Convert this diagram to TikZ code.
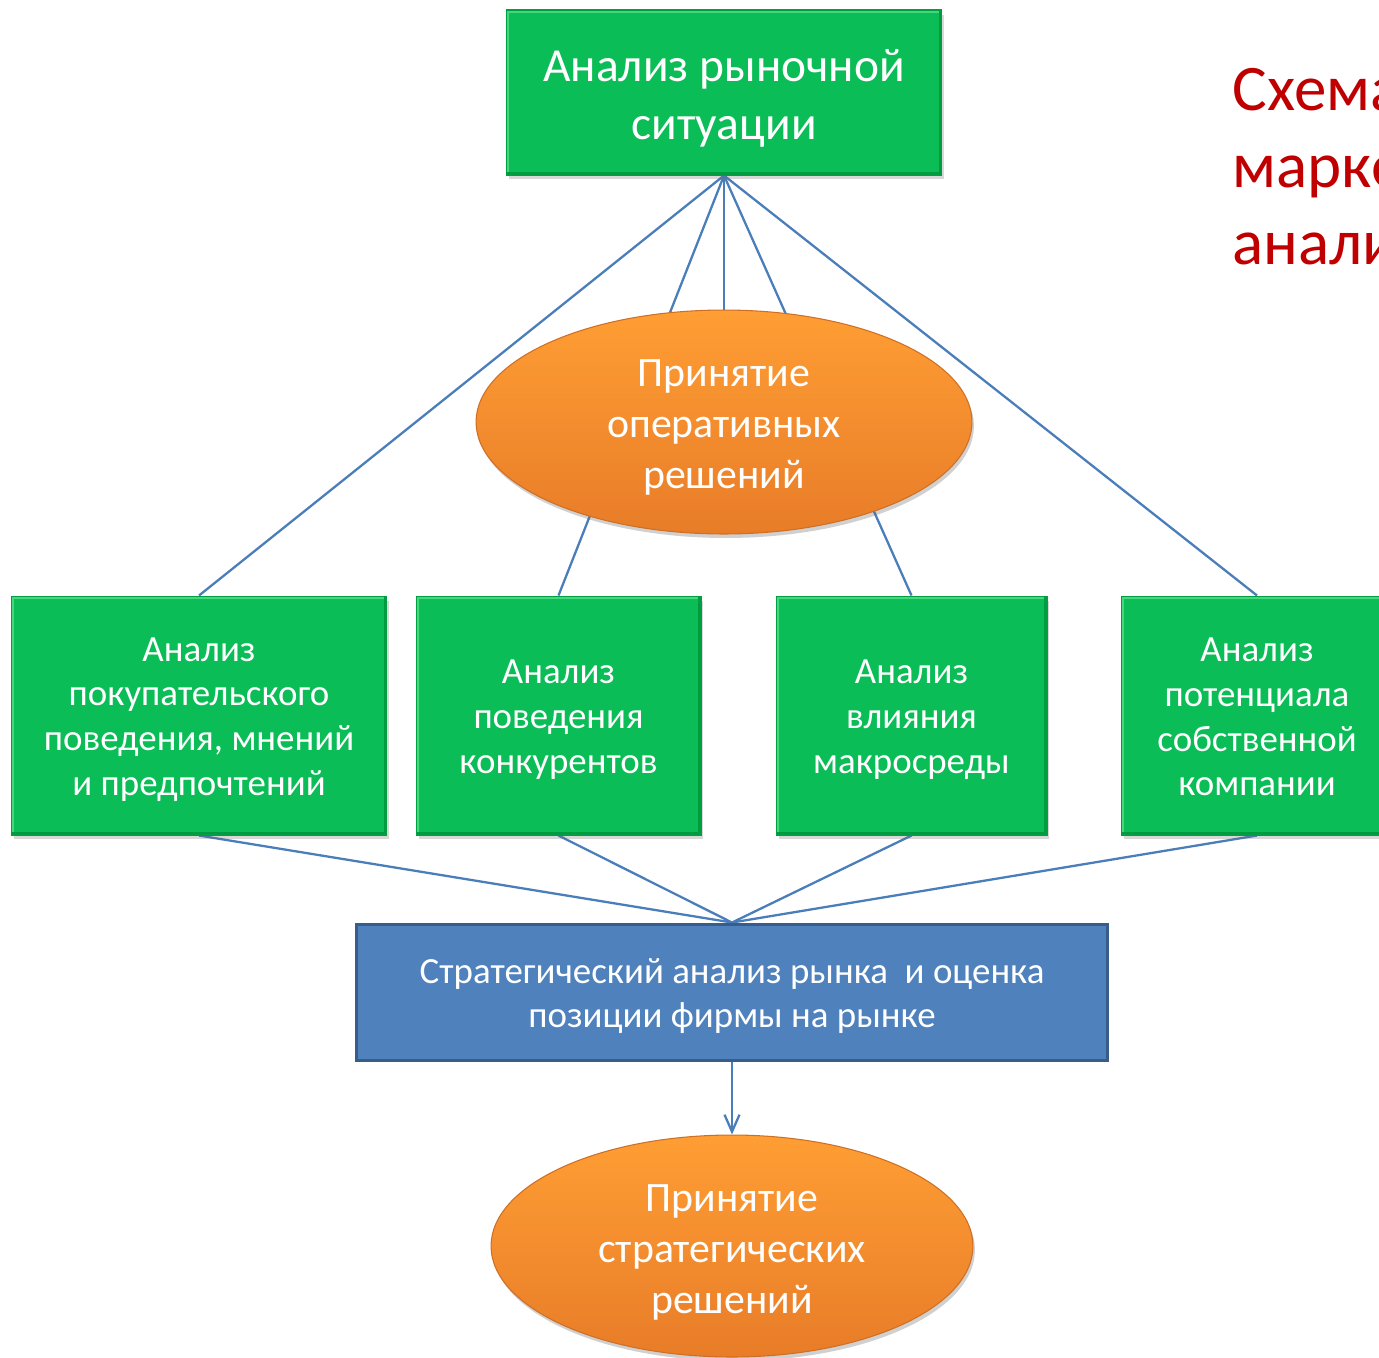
\documentclass[tikz,border=0pt]{standalone}
\usepackage{fontspec}
\setmainfont{Carlito}
\usetikzlibrary{shapes.geometric,arrows.meta,shadows}
\definecolor{boxgreen}{RGB}{10,189,86}
\definecolor{boxgreenedge}{RGB}{0,160,66}
\definecolor{bevellight}{RGB}{70,215,125}
\definecolor{beveldark}{RGB}{0,155,64}
\definecolor{orangetop}{RGB}{255,158,52}
\definecolor{orangebot}{RGB}{232,124,40}
\definecolor{orangeedge}{RGB}{205,112,38}
\definecolor{bluefill}{RGB}{79,129,189}
\definecolor{blueedge}{RGB}{56,93,138}
\definecolor{linkblue}{RGB}{74,126,187}
\definecolor{titlered}{RGB}{192,0,0}
\pgfdeclarelayer{background}
\pgfsetlayers{background,main}
\tikzset{
  greenbox/.style={rectangle, fill=boxgreen, draw=boxgreenedge, line width=0.6pt,
    inner sep=0pt,
    path picture={
      \draw[bevellight, line width=0.1cm]
        (path picture bounding box.south west) -- (path picture bounding box.north west)
        -- (path picture bounding box.north east);
      \draw[beveldark, line width=0.1cm]
        (path picture bounding box.north east) -- (path picture bounding box.south east)
        -- (path picture bounding box.south west);
    },
    drop shadow={shadow xshift=0.05cm, shadow yshift=-0.09cm, opacity=0.25, fill=black!60}},
  orangeell/.style={ellipse, top color=orangetop, bottom color=orangebot, draw=orangeedge,
    line width=0.6pt, inner sep=0pt,
    drop shadow={shadow xshift=0.04cm, shadow yshift=-0.08cm, opacity=0.3, fill=black!60}},
  bluebox/.style={rectangle, fill=bluefill, draw=blueedge, line width=1.7pt, inner sep=0pt},
  label text/.style={text=white, align=center, inner sep=0pt},
  link/.style={draw=linkblue, line width=1.3pt},
  titletext/.style={text=titlered, anchor=base west, inner sep=0pt,
    font=\fontsize{37pt}{44pt}\selectfont},
}
\begin{document}
\begin{tikzpicture}[x=0.02cm,y=-0.02cm]
\useasboundingbox (0,0) rectangle (1379,1357);
\clip (0,0) rectangle (1379,1357);
\begin{pgfonlayer}{background}
\fill[white] (0,0) rectangle (1379,1357);
\end{pgfonlayer}

\node[greenbox, minimum width=8.72cm, minimum height=3.3cm] (top) at (724,92.5) {};
\node[label text, font=\fontsize{27pt}{33pt}\selectfont] (toptext) at (724,98.5) {Анализ рыночной\\ситуации};

\node[titletext] (t1) at (1232,110) {Схема};
\node[titletext] (t2) at (1232,187) {марке};
\node[titletext] (t3) at (1232,264) {анали};

\node[greenbox, minimum width=7.52cm, minimum height=4.78cm] (b1) at (199,715.5) {};
\node[greenbox, minimum width=5.7cm, minimum height=4.78cm] (b2) at (558.5,715.5) {};
\node[greenbox, minimum width=5.42cm, minimum height=4.78cm] (b3) at (911.5,715.5) {};
\node[greenbox, minimum width=5.44cm, minimum height=4.78cm] (b4) at (1257,715.5) {};
\node[label text, font=\fontsize{21pt}{25.5pt}\selectfont] (b1text) at (199,719.5)
  {Анализ\\покупательского\\поведения, мнений\\и предпочтений};
\node[label text, font=\fontsize{21pt}{25.5pt}\selectfont] (b2text) at (558.5,719.5)
  {Анализ\\поведения\\конкурентов};
\node[label text, font=\fontsize{21pt}{25.5pt}\selectfont] (b3text) at (911.5,719.5)
  {Анализ\\влияния\\макросреды};
\node[label text, font=\fontsize{21pt}{25.5pt}\selectfont] (b4text) at (1257,717)
  {Анализ\\потенциала\\собственной\\компании};

\node[orangeell, minimum width=9.92cm, minimum height=4.48cm] (e1) at (724,422) {};
\node[label text, font=\fontsize{23.8pt}{29pt}\selectfont] (e1text) at (724,427)
  {Принятие\\оперативных\\решений};

\node[bluebox, minimum width=15.04cm, minimum height=2.72cm] (blue) at (732,992) {};
\node[label text, font=\fontsize{21pt}{25.5pt}\selectfont] (bluetext) at (732,996)
  {Стратегический анализ рынка\ \ и оценка\\позиции фирмы на рынке};

\node[orangeell, minimum width=9.64cm, minimum height=4.44cm] (e2) at (732,1246) {};
\node[label text, font=\fontsize{23.8pt}{29pt}\selectfont] (e2text) at (732,1252)
  {Принятие\\стратегических\\решений};

\begin{pgfonlayer}{background}
  \draw[link] (top.south) -- (b1.north);
  \draw[link] (top.south) -- (b2.north);
  \draw[link] (top.south) -- (e1.north);
  \draw[link] (top.south) -- (b3.north);
  \draw[link] (top.south) -- (b4.north);
  \draw[link] (b1.south) -- (blue.north);
  \draw[link] (b2.south) -- (blue.north);
  \draw[link] (b3.south) -- (blue.north);
  \draw[link] (b4.south) -- (blue.north);
\end{pgfonlayer}
\draw[link, -{Straight Barb[length=0.34cm,width=0.3cm,line width=1.3pt]}] (blue.south) -- (e2.north);
\end{tikzpicture}
\end{document}
